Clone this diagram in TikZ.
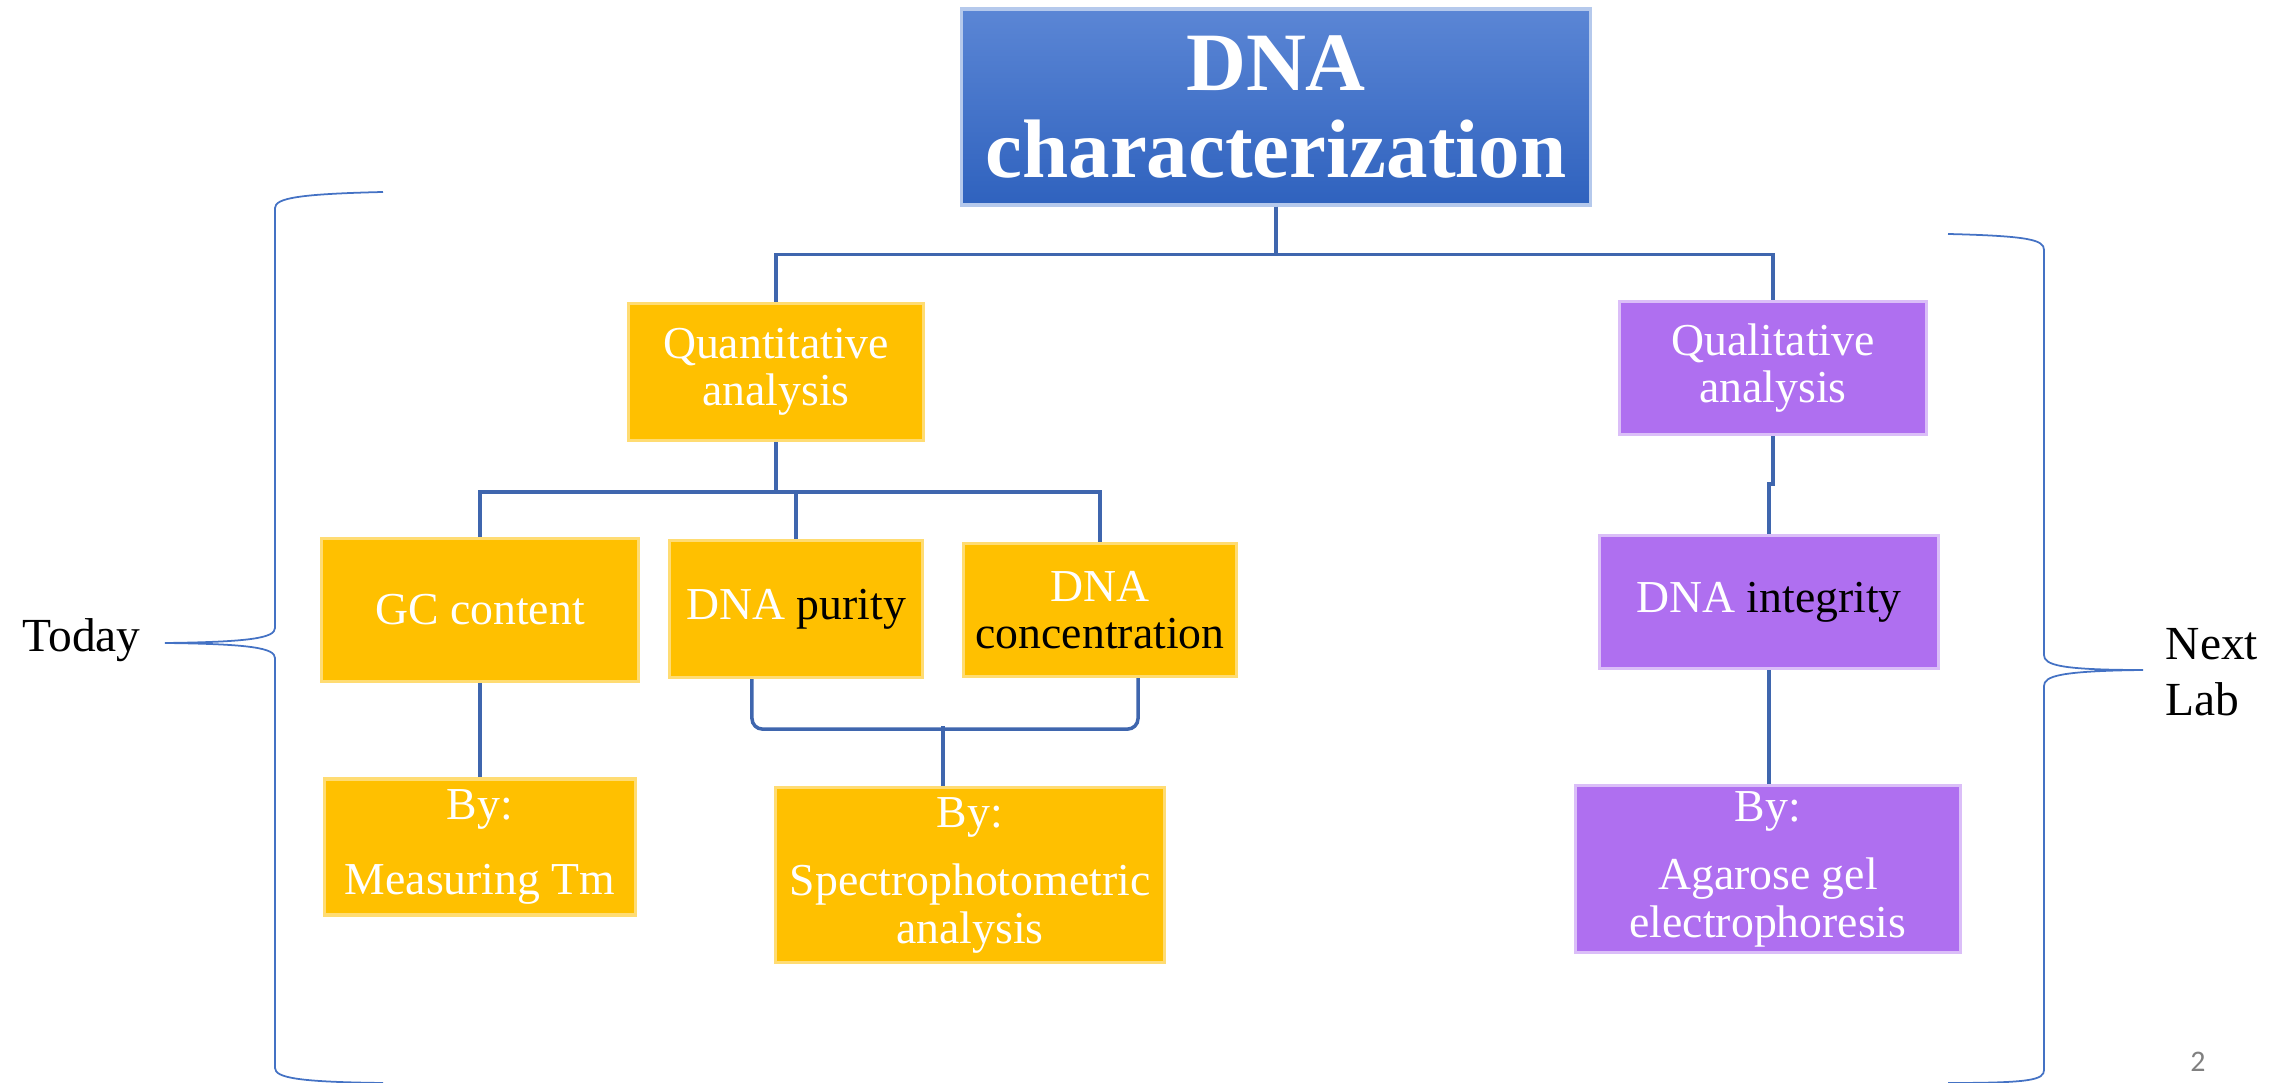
\documentclass[tikz,border=0pt]{standalone}
\usepackage{fontspec}
\setmainfont{Liberation Serif}
\newfontfamily\pagefont{Carlito}
\usetikzlibrary{positioning}
\definecolor{topblue}{HTML}{5B86D5}
\definecolor{botblue}{HTML}{2F62BE}
\definecolor{boxgold}{HTML}{FFC000}
\definecolor{boxlilac}{HTML}{AF6FF0}
\definecolor{linkblue}{HTML}{3F66AE}
\definecolor{braceblue}{HTML}{4472C4}

\begin{document}
\begin{tikzpicture}[x=0.01cm,y=-0.01cm,
        topbox/.style={top color=topblue,bottom color=botblue,draw=topblue!45!white,line width=0.9pt,inner sep=0pt,align=center,text=white,font=\fontsize{23.6}{25}\selectfont\bfseries},
        ybox/.style={fill=boxgold,draw=boxgold!55!white,line width=0.9pt,inner sep=0pt,align=center,text=white,font=\fontsize{13}{13.5}\selectfont},
        pbox/.style={fill=boxlilac,draw=boxlilac!45!white,line width=0.9pt,inner sep=0pt,align=center,text=white,font=\fontsize{13}{13.5}\selectfont},
        conn/.style={draw=linkblue,line width=1pt},
        bline/.style={draw=braceblue,line width=0.5pt},
        side/.style={font=\fontsize{13.5}{16}\selectfont,inner sep=0pt}]
        \useasboundingbox (0,0) rectangle (2293,1083);
        \node(T) [topbox,minimum width=6.28cm,minimum height=1.96cm] at (1276,107) {DNA\\characterization};
        \node(Q1) [ybox,minimum width=2.95cm,minimum height=1.37cm] at (776,372) {Quantitative\\analysis};
        \node(Q2) [pbox,minimum width=3.07cm,minimum height=1.33cm] at (1773,368) {Qualitative\\analysis};
        \node(G) [ybox,minimum width=3.17cm,minimum height=1.43cm] at (480,610) {GC content};
        \node(P) [ybox,minimum width=2.53cm,minimum height=1.37cm] at (796,609) {DNA \textcolor{black}{purity}};
        \node(C) [ybox,minimum width=2.73cm,minimum height=1.33cm] at (1100,610) {DNA\\\textcolor{black}{concentration}};
        \node(M) [ybox,minimum width=3.11cm,minimum height=1.36cm] at (480,847) {By:\\[8pt]Measuring Tm};
        \node(S) [ybox,minimum width=3.89cm,minimum height=1.75cm] at (970,875) {By:\\[6pt]Spectrophotometric\\analysis};
        \node(I) [pbox,minimum width=3.38cm,minimum height=1.33cm] at (1769,602) {DNA \textcolor{black}{integrity}};
        \node(A) [pbox,minimum width=3.84cm,minimum height=1.67cm] at (1768,869) {By:\\[6pt]Agarose gel\\electrophoresis};
        \node(L) [side,anchor=west] at (22,640) {Today};
        \node(R) [side,anchor=west,align=left] at (2165,672) {Next\\Lab};
        \node(N) [text=gray,font=\pagefont\fontsize{8.5}{9}\selectfont] at (2198,1062) {2};
        \draw[conn] (T.south) -- ++(0,48) -| (Q1.north);
        \draw[conn] (T.south) -- ++(0,48) -| (Q2.north);
        \draw[conn] (Q1.south) -- ++(0,50) -| (G.north);
        \draw[conn] (Q1.south) -- ++(0,50) -| (P.north);
        \draw[conn] (Q1.south) -- ++(0,50) -| (C.north);
        \draw[conn] (G) -- (M);
        \draw[conn,rounded corners=3pt] ([xshift=-0.44cm]P.south) -- ++(0,50) -| ([xshift=0.38cm]C.south);
        \draw[conn] ([xshift=-0.27cm]S.north) -- ++(0,-60);
        \draw[conn] (Q2.south) -- ++(0,48) -| (I.north);
        \draw[conn] (I.south) -- (I.south |- A.north);
        \draw[bline] (383,192) .. controls (300,194) and (275,198) .. (275,208) -- (275,628) .. controls (275,638) and (250,642) .. (165,643)
                     .. controls (250,644) and (275,648) .. (275,658) -- (275,1068) .. controls (275,1078) and (300,1082) .. (383,1083);
        \draw[bline] (1948,234) .. controls (2030,236) and (2044,240) .. (2044,250) -- (2044,655) .. controls (2044,665) and (2060,670) .. (2143,670)
                     .. controls (2060,671) and (2044,676) .. (2044,686) -- (2044,1070) .. controls (2044,1080) and (2030,1083) .. (1948,1083);
    \end{tikzpicture}
\end{document}
